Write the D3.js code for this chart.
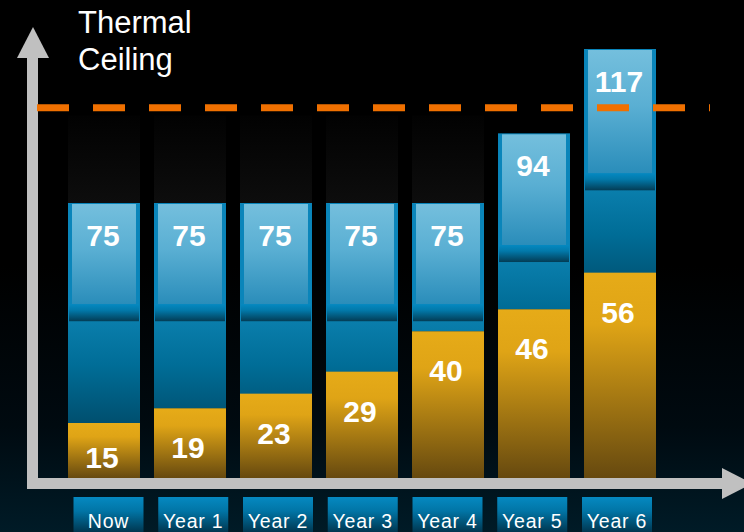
<!DOCTYPE html>
<html>
<head>
<meta charset="utf-8">
<script src="https://cdn.jsdelivr.net/npm/d3@7"></script>
<style>
html,body{margin:0;padding:0;background:#000;overflow:hidden;}
svg{display:block;}
text{font-family:"Liberation Sans",Arial,sans-serif;}
</style>
</head>
<body>
<script>
// ---- data ----
const categories = ["Now", "Year 1", "Year 2", "Year 3", "Year 4", "Year 5", "Year 6"];
const totals = [75, 75, 75, 75, 75, 94, 117];
const baseValues = [15, 19, 23, 29, 40, 46, 56];
const headroomShown = [true, true, true, true, true, false, false];
const ceilingValue = 101;
const ceilingLabel = ["Thermal", "Ceiling"];

const W = 744, H = 532;
const svg = d3.select("body").append("svg").attr("width", W).attr("height", H);
const defs = svg.append("defs");

function lin(id, stops, attrs) {
  const g = defs.append("linearGradient").attr("id", id)
    .attr("x1", 0).attr("y1", 0).attr("x2", 0).attr("y2", 1);
  if (attrs) Object.entries(attrs).forEach(([k, v]) => g.attr(k, v));
  stops.forEach(([o, c]) => g.append("stop").attr("offset", o).attr("stop-color", c));
  return "url(#" + id + ")";
}
const bgFill = lin("bg", [[0, "#000000"], [0.5, "#000000"], [0.8, "#000a10"], [1, "#001b27"]]);
const lightFill = lin("light", [[0, "#74bfdd"], [0.45, "#5aafd3"], [1, "#2a8dba"]]);
const bandFill = lin("band", [[0, "#0489c1"], [0.35, "#0279aa"], [1, "#033c55"]]);
const goldFill = lin("gold", [[0, "#e6ab18"], [0.25, "#dfa416"], [1, "#66490f"]]);
const headFill = lin("head", [[0, "#020202"], [1, "#0d0d0d"]]);
const boxFill = lin("box", [[0, "#0589c1"], [0.35, "#0175a6"], [1, "#00283c"]]);

svg.append("rect").attr("width", W).attr("height", H).attr("fill", bgFill);

// ---- scales ----
const x = d3.scaleBand().domain(categories).range([68, 656]).paddingInner(0.163).paddingOuter(0);
const xLab = d3.scalePoint().domain(categories).range([108.5, 617]);
const y = d3.scaleLinear().domain([0, 117]).range([478, 49]);
const bw = x.bandwidth();

const rows = categories.map((c, i) => ({ c, i, total: totals[i], base: baseValues[i], head: headroomShown[i] }));

// headroom (space up to the ceiling)
svg.append("g").selectAll("rect").data(rows.filter(d => d.head)).join("rect")
  .attr("x", d => x(d.c)).attr("width", bw)
  .attr("y", y(ceilingValue) + 8)
  .attr("height", d => y(d.total) - y(ceilingValue) - 8)
  .attr("fill", headFill);

const bars = svg.append("g").selectAll("g").data(rows).join("g");

rows.forEach(d => {
  const top = y(d.total), gTop = y(d.base), h = y(0) - top;
  d.bandTop = top + 60 + 0.15 * h;
  d.bandH = 17;
  d.bandBot = d.bandTop + d.bandH;
  d.gTop = gTop;
  d.top = top;
  lin("low" + d.i, [[0, "#0a7eac"], [0.4, "#006d97"], [1, "#004b69"]],
    { gradientUnits: "userSpaceOnUse", x1: 0, x2: 0, y1: d.bandBot, y2: d.bandBot + 110 });
});

// outer blue (edge colour)
bars.append("rect").attr("x", d => x(d.c)).attr("width", bw)
  .attr("y", d => d.top).attr("height", d => d.gTop - d.top).attr("fill", "#0a85ba");
// light upper panel
bars.append("rect").attr("x", d => x(d.c) + 4).attr("width", bw - 8)
  .attr("y", d => d.top + 1).attr("height", d => d.bandTop - d.top - 1).attr("fill", lightFill);
// lower blue
bars.append("rect").attr("x", d => x(d.c)).attr("width", bw)
  .attr("y", d => d.bandBot).attr("height", d => Math.max(0, d.gTop - d.bandBot))
  .attr("fill", d => "url(#low" + d.i + ")");
// band
bars.append("rect").attr("x", d => x(d.c) + 1).attr("width", bw - 2)
  .attr("y", d => d.bandTop).attr("height", d => d.bandH).attr("fill", bandFill);
// gold segment
bars.append("rect").attr("x", d => x(d.c)).attr("width", bw)
  .attr("y", d => d.gTop).attr("height", d => y(0) - d.gTop).attr("fill", goldFill);

// value labels
bars.append("text").attr("x", d => x(d.c) + bw / 2 - 1).attr("y", d => d.top + 43)
  .attr("text-anchor", "middle").attr("fill", "#fff").attr("font-weight", "bold")
  .attr("font-size", 30).text(d => d.total);
bars.append("text").attr("x", d => x(d.c) + bw / 2 - 2).attr("y", d => Math.min(d.gTop + 50, 468))
  .attr("text-anchor", "middle").attr("fill", "#fff").attr("font-weight", "bold")
  .attr("font-size", 30).text(d => d.base);

// axes (arrows)
const axis = svg.append("g").attr("fill", "#c0c0c0");
axis.append("rect").attr("x", 27).attr("y", 56).attr("width", 11).attr("height", 489 - 56);
axis.append("path").attr("d", "M17,58 L49,58 L33,27 Z");
axis.append("rect").attr("x", 27).attr("y", y(0)).attr("width", 722 - 27).attr("height", 11);
axis.append("path").attr("d", `M722,468 L722,499 L752,${y(0) + 5.5} Z`);

// thermal ceiling
svg.append("line").attr("x1", 37).attr("x2", 710)
  .attr("y1", y(ceilingValue)).attr("y2", y(ceilingValue))
  .attr("stroke", "#f07000").attr("stroke-width", 7).attr("stroke-dasharray", "32 24");
svg.append("g").selectAll("text").data(ceilingLabel).join("text")
  .attr("x", 78).attr("y", (d, i) => 32.5 + i * 37.5)
  .attr("fill", "#fff").attr("font-size", 31).text(d => d);

// category boxes
const cat = svg.append("g").selectAll("g").data(rows).join("g");
cat.append("rect").attr("x", d => xLab(d.c) - 35).attr("y", 497).attr("width", 70).attr("height", 40)
  .attr("fill", boxFill);
cat.append("text").attr("x", d => xLab(d.c)).attr("y", 528).attr("text-anchor", "middle")
  .attr("fill", "#fff").attr("font-size", 19.5).attr("letter-spacing", 0.8).text(d => d.c);
</script>
</body>
</html>
